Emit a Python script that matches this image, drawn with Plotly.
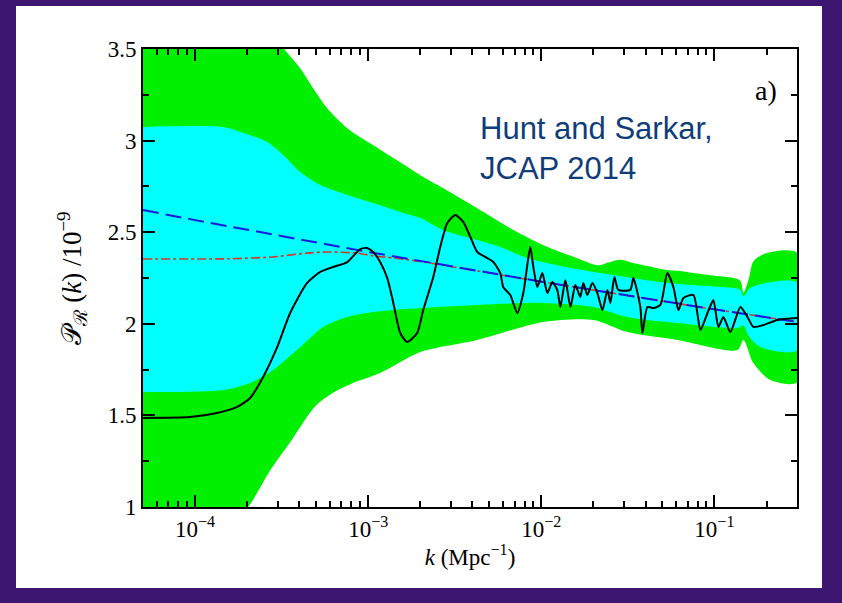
import numpy as np
import plotly.graph_objects as go

# ---------------- data ----------------
# log10(k / Mpc^-1) and P_R(k)/1e-9 pairs for each curve / band edge
green_up_logk = [-4.301, -3.80, -3.60, -3.49, -3.393, -3.318, -3.237, -3.121, -2.971, -2.815,
                 -2.699, -2.566, -2.370, -2.179, -1.988, -1.792, -1.676, -1.601, -1.543, -1.480,
                 -1.410, -1.272, -1.214, -1.023, -0.890, -0.850, -0.832, -0.800, -0.775, -0.700, -0.520]
green_up_P = [3.95, 3.85, 3.65, 3.505, 3.395, 3.286, 3.177, 3.068, 2.975, 2.882,
              2.811, 2.740, 2.631, 2.522, 2.429, 2.358, 2.320, 2.338, 2.350, 2.335,
              2.320, 2.294, 2.290, 2.265, 2.250, 2.235, 2.170, 2.250, 2.340, 2.385, 2.386]

green_lo_logk = [-4.301, -3.95, -3.694, -3.566, -3.439, -3.306, -3.191, -3.087, -2.931, -2.699,
                 -2.370, -1.988, -1.699, -1.503, -1.214, -0.867, -0.832, -0.775, -0.676, -0.520]
green_lo_P = [0.60, 0.75, 1.00, 1.20, 1.37, 1.55, 1.63, 1.677, 1.731, 1.846,
              1.912, 2.010, 2.021, 1.955, 1.912, 1.857, 1.912, 1.786, 1.693, 1.682]

cyan_up_logk = [-4.301, -3.838, -3.740, -3.584, -3.491, -3.393, -3.277, -3.121, -2.971, -2.815,
                -2.699, -2.566, -2.370, -2.237, -2.081, -1.890, -1.659, -1.272, -0.890, -0.850,
                -0.832, -0.800, -0.751, -0.520]
cyan_up_P = [3.074, 3.074, 3.047, 2.992, 2.921, 2.828, 2.757, 2.703, 2.659, 2.610,
             2.577, 2.511, 2.457, 2.419, 2.359, 2.316, 2.277, 2.223, 2.195, 2.185,
             2.150, 2.190, 2.212, 2.223]

cyan_lo_logk = [-4.301, -3.838, -3.682, -3.549, -3.393, -3.260, -3.121, -2.971, -2.699, -2.370,
                -1.988, -1.699, -1.503, -1.214, -0.867, -0.832, -0.800, -0.734, -0.520]
cyan_lo_P = [1.628, 1.639, 1.677, 1.748, 1.873, 1.983, 2.037, 2.064, 2.086, 2.103,
             2.114, 2.092, 2.037, 2.004, 1.977, 1.990, 1.930, 1.873, 1.857]

powerlaw_logk = [-4.301, -4.0, -3.0, -2.0, -1.0, -0.520]
powerlaw_P = [2.621, 2.566, 2.392, 2.230, 2.079, 2.010]

red_logk = [-4.301, -3.80, -3.55, -3.353, -3.237, -3.06, -2.971, -2.855, -2.699, -2.0, -1.0, -0.520]
red_P = [2.354, 2.355, 2.365, 2.386, 2.392, 2.386, 2.370, 2.360, 2.340, 2.230, 2.079, 2.010]

black_logk = [-4.301, -4.029, -3.873, -3.757, -3.682, -3.607, -3.526, -3.451, -3.353, -3.277,
              -3.202, -3.121, -3.046, -3.006, -2.971, -2.931, -2.890, -2.855, -2.815, -2.775,
              -2.717, -2.682, -2.624, -2.584, -2.543, -2.497, -2.451, -2.410, -2.370, -2.312,
              -2.277, -2.237, -2.220, -2.179, -2.139, -2.104, -2.064, -2.046, -2.023, -1.994,
              -1.965, -1.936, -1.908, -1.890, -1.861, -1.832, -1.803, -1.775, -1.757, -1.734,
              -1.705, -1.676, -1.647, -1.618, -1.601, -1.578, -1.555, -1.486, -1.468, -1.428,
              -1.416, -1.387, -1.353, -1.312, -1.272, -1.237, -1.208, -1.179, -1.121, -1.081,
              -1.040, -1.006, -0.977, -0.948, -0.908, -0.850, -0.809, -0.775, -0.717, -0.636, -0.520]
black_P = [1.486, 1.491, 1.513, 1.546, 1.595, 1.710, 1.873, 2.059, 2.223, 2.283,
           2.310, 2.337, 2.408, 2.414, 2.392, 2.337, 2.250, 2.114, 1.950, 1.901,
           1.950, 2.075, 2.255, 2.419, 2.550, 2.594, 2.556, 2.474, 2.392, 2.359,
           2.337, 2.277, 2.201, 2.157, 2.059, 2.168, 2.419, 2.310, 2.201, 2.277,
           2.168, 2.228, 2.185, 2.092, 2.239, 2.092, 2.212, 2.146, 2.223, 2.157,
           2.223, 2.168, 2.075, 2.185, 2.114, 2.255, 2.185, 2.185, 2.250, 2.092,
           1.950, 2.092, 2.086, 2.103, 2.277, 2.201, 2.075, 2.141, 2.157, 1.966,
           2.059, 2.130, 1.983, 2.037, 1.955, 2.092, 2.037, 1.983, 1.993, 2.021, 2.032]

x_major = [1e-4, 1e-3, 1e-2, 1e-1]
x_major_text = ["10<sup>−4</sup>", "10<sup>−3</sup>", "10<sup>−2</sup>", "10<sup>−1</sup>"]
y_major = [1, 1.5, 2, 2.5, 3, 3.5]
y_major_text = ["1", "1.5", "2", "2.5", "3", "3.5"]


def k_of(logk):
    return list(10 ** np.array(logk))


def band(up_logk, up_P, lo_logk, lo_P):
    xs = k_of(up_logk) + k_of(lo_logk)[::-1]
    ys = list(up_P) + list(lo_P)[::-1]
    return xs, ys


minor_x = [m * 10.0 ** e for e in range(-5, 0) for m in range(2, 10)]

fig = go.Figure()

gx, gy = band(green_up_logk, green_up_P, green_lo_logk, green_lo_P)
fig.add_trace(go.Scatter(x=gx, y=gy, fill="toself", fillcolor="#00f000",
                         line=dict(width=0, shape="spline", smoothing=0.8),
                         mode="lines", hoverinfo="skip", showlegend=False))
cx, cy = band(cyan_up_logk, cyan_up_P, cyan_lo_logk, cyan_lo_P)
fig.add_trace(go.Scatter(x=cx, y=cy, fill="toself", fillcolor="#00ffff",
                         line=dict(width=0, shape="spline", smoothing=0.8),
                         mode="lines", hoverinfo="skip", showlegend=False))
fig.add_trace(go.Scatter(x=k_of(red_logk), y=red_P, mode="lines",
                         line=dict(color="#d03a2a", width=1.6, dash="dashdot", shape="spline", smoothing=0.6),
                         showlegend=False))
fig.add_trace(go.Scatter(x=k_of(powerlaw_logk), y=powerlaw_P, mode="lines",
                         line=dict(color="#1a1ae0", width=2, dash="16px,7px"), showlegend=False))
fig.add_trace(go.Scatter(x=k_of(black_logk), y=black_P, mode="lines",
                         line=dict(color="black", width=2, shape="spline", smoothing=0.6),
                         showlegend=False))

# white panel on the purple background
fig.add_shape(type="rect", xref="paper", yref="paper", x0=-0.1942, x1=1.0382, y0=-0.1769, y1=1.0939,
              fillcolor="white", line=dict(width=0), layer="below")

serif = "Liberation Serif"
purple = "#3c1670"
fig.update_layout(
    width=842, height=603,
    margin=dict(l=143, r=45, t=49, b=96, autoexpand=False),
    paper_bgcolor=purple,
    plot_bgcolor="rgba(0,0,0,0)",
    showlegend=False,
    xaxis=dict(
        type="log", range=[np.log10(5e-5), np.log10(0.3)], automargin=False,
        tickvals=x_major, ticktext=x_major_text,
        ticks="inside", ticklen=12, tickwidth=1.5, tickcolor="black",
        minor=dict(tickvals=minor_x, ticks="inside", ticklen=6, tickwidth=1.5, tickcolor="black",
                   showgrid=False),
        showline=True, linecolor="black", linewidth=2, mirror="ticks",
        showgrid=False, zeroline=False,
        tickfont=dict(family=serif, size=23, color="black"),
        title=dict(text="<i>k</i> (Mpc<sup>−1</sup>)", font=dict(family=serif, size=23, color="black"),
                   standoff=8),
    ),
    yaxis=dict(
        range=[1, 3.5], tickvals=y_major, ticktext=y_major_text, automargin=False,
        ticks="inside", ticklen=12, tickwidth=1.5, tickcolor="black",
        minor=dict(dtick=0.25, ticks="inside", ticklen=6, tickwidth=1.5, tickcolor="black",
                   showgrid=False),
        showline=True, linecolor="black", linewidth=2, mirror="ticks",
        showgrid=False, zeroline=False,
        tickfont=dict(family=serif, size=23, color="black"),
        title=dict(text="𝒫<sub>ℛ</sub> (<i>k</i>) /10<sup>−9</sup>",
                   font=dict(family=serif, size=27, color="black"), standoff=18),
    ),
    annotations=[
        dict(text="Hunt and Sarkar,<br>JCAP 2014", xref="paper", yref="paper",
             x=0.512, y=0.868, xanchor="left", yanchor="top", align="left", showarrow=False,
             font=dict(family="Liberation Sans", size=31, color="#0f3d7a")),
        dict(text="a)", xref="paper", yref="paper", x=0.952, y=0.91, xanchor="center", yanchor="middle",
             showarrow=False, font=dict(family=serif, size=28, color="black")),
    ],
)

fig.write_html("out.html", config={"displayModeBar": False},
               post_script="document.body.style.margin='0';document.body.style.background='%s';" % purple)
